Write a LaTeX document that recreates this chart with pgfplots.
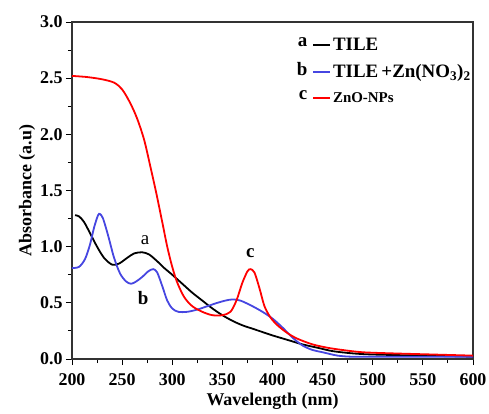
\documentclass[border=0pt]{standalone}
\usepackage{pgfplots}
\pgfplotsset{compat=1.18}
\usepackage{fontspec}
\setmainfont{Liberation Serif}

\definecolor{tileblue}{RGB}{70,70,225}

\begin{document}
\begin{tikzpicture}
\begin{axis}[
    scale only axis,
    width=401bp, height=337bp,
    xmin=200, xmax=600, ymin=0, ymax=3,
    xtick={200,250,...,600},
    ytick={0,0.5,...,3},
    minor x tick num=1, minor y tick num=1,
    tick pos=left, tick align=outside,
    major tick length=6bp, minor tick length=4bp,
    every tick/.style={black, line width=0.9bp},
    axis line style={line width=1.1bp, black!80},
    /pgf/number format/assume math mode=true,
    yticklabel style={/pgf/number format/fixed, /pgf/number format/fixed zerofill, /pgf/number format/precision=1},
    xticklabel style={yshift=-5bp},
    ticklabel style={font=\fontsize{18}{20}\selectfont\bfseries},
    xlabel={Wavelength (nm)}, ylabel={Absorbance (a.u)},
    label style={font=\fontsize{18}{20}\selectfont\bfseries},
    xlabel style={yshift=-1bp},
    ylabel style={yshift=-2bp},
    legend style={draw=none, fill=none, at={(0.56,0.96)}, anchor=north west,
        font=\fontsize{19}{21}\selectfont\bfseries, row sep=9bp,
        inner sep=0pt, cells={anchor=west}},
    legend cell align=left,
]
\addplot[black, line width=1.8bp, smooth,
    legend image code/.code={\node[black, anchor=east, inner sep=0pt] at (-5bp,2bp) {a}; \draw[black, line width=1.8bp] (0bp,0bp) -- (17bp,0bp);}]
coordinates {
(203,1.28)(207,1.27)(212,1.22)(218,1.12)(225,1.00)(232,0.90)(240,0.84)(247,0.85)
(255,0.90)(262,0.94)(270,0.95)(277,0.93)(285,0.87)(292,0.81)(300,0.75)(310,0.67)
(320,0.59)(330,0.52)(340,0.45)(350,0.39)(360,0.34)(370,0.30)(380,0.27)(390,0.24)
(400,0.21)(415,0.17)(430,0.13)(445,0.10)(460,0.07)(480,0.05)(500,0.04)(550,0.03)(600,0.02)
};
\addlegendentry{TILE}
\addplot[tileblue, line width=1.8bp, smooth,
    legend image code/.code={\node[black, anchor=east, inner sep=0pt] at (-5bp,2bp) {b}; \draw[tileblue, line width=1.8bp] (0bp,0bp) -- (17bp,0bp);}]
coordinates {
(200,0.81)(207,0.82)(213,0.89)(218,1.02)(222,1.17)(226,1.28)(228,1.29)(231,1.25)
(236,1.10)(242,0.90)(248,0.76)(254,0.69)(259,0.67)(264,0.69)(270,0.73)(276,0.78)
(281,0.80)(285,0.77)(290,0.65)(295,0.52)(300,0.45)(306,0.42)(315,0.42)(325,0.44)
(335,0.47)(345,0.50)(353,0.52)(360,0.53)(368,0.52)(380,0.47)(390,0.42)(400,0.36)
(410,0.28)(420,0.19)(430,0.12)(440,0.08)(450,0.06)(465,0.03)(480,0.02)(500,0.02)(600,0.02)
};
\addlegendentry{TILE\,+Zn(NO\textsubscript{3})\textsubscript{2}}
\addplot[red, line width=1.8bp, smooth,
    legend image code/.code={\node[black, anchor=east, inner sep=0pt] at (-5bp,3bp) {c}; \draw[red, line width=1.8bp] (0bp,0bp) -- (17bp,0bp);}]
coordinates {
(200,2.52)(215,2.51)(230,2.49)(242,2.46)(250,2.40)(258,2.28)(265,2.14)(272,1.95)
(278,1.72)(284,1.48)(290,1.22)(295,1.00)(300,0.82)(305,0.68)(312,0.55)(320,0.47)
(330,0.42)(340,0.39)(350,0.39)(358,0.42)(364,0.52)(370,0.68)(375,0.78)(378,0.80)
(382,0.77)(387,0.63)(392,0.47)(398,0.37)(405,0.30)(415,0.23)(425,0.18)(440,0.13)
(455,0.10)(470,0.08)(490,0.06)(520,0.05)(560,0.04)(600,0.03)
};
\addlegendentry{\fontsize{15}{17}\selectfont ZnO-NPs}
\node[font=\fontsize{19}{21}\selectfont] at (axis cs:273,1.06) {a};
\node[font=\fontsize{19}{21}\selectfont\bfseries] at (axis cs:271,0.54) {b};
\node[font=\fontsize{19}{21}\selectfont\bfseries] at (axis cs:378,0.94) {c};
\coordinate (ll) at (rel axis cs:0,0);
\coordinate (ur) at (rel axis cs:1,1);
\end{axis}
\pgfresetboundingbox
\path[use as bounding box] ([shift={(-72bp,-55bp)}]ll) rectangle ([shift={(16bp,22bp)}]ur);
\end{tikzpicture}
\end{document}
